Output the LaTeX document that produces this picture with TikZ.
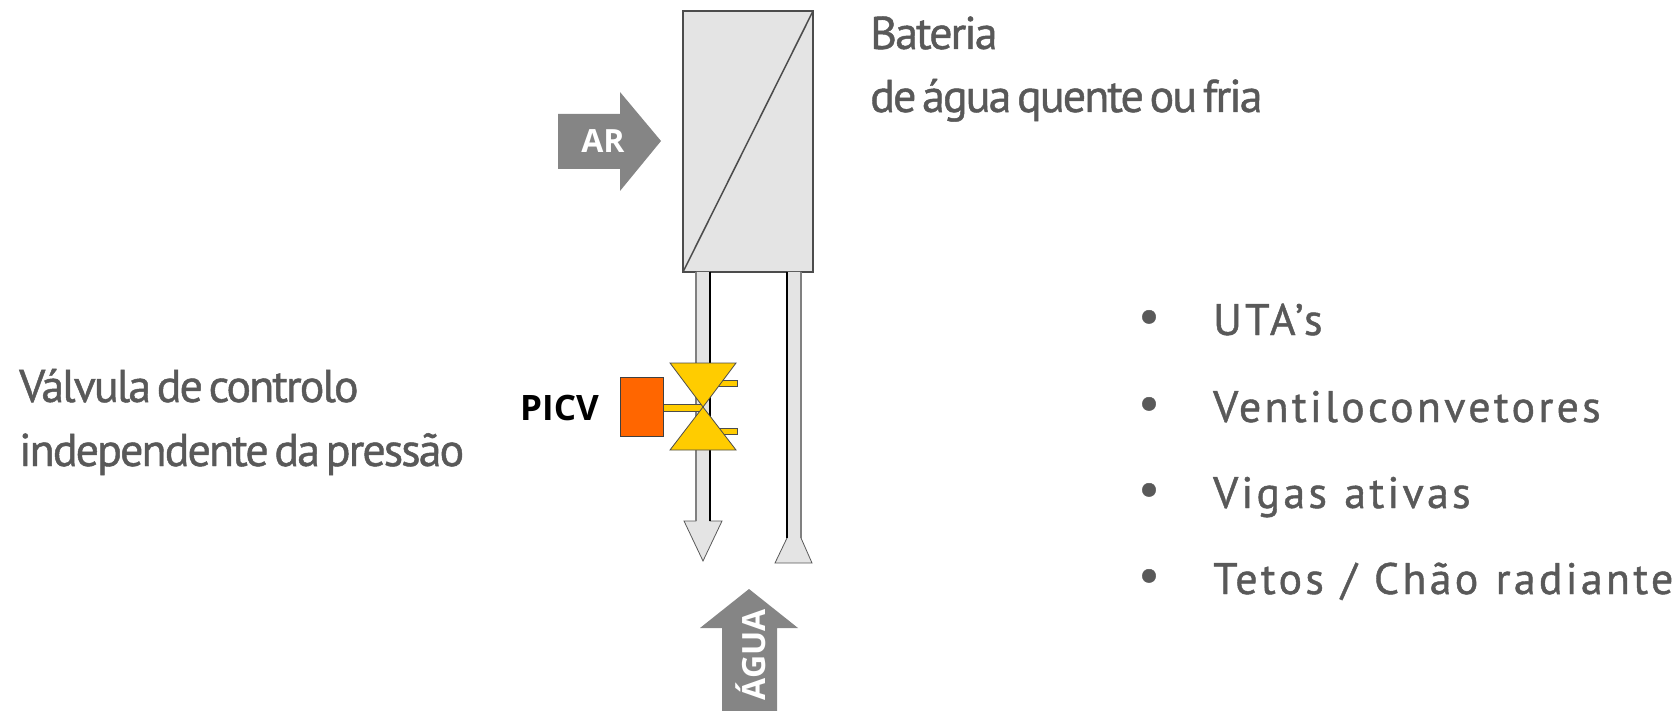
\documentclass[tikz,border=0pt]{standalone}
\usepackage{fontspec}
\setmainfont{Liberation Sans}
\newfontfamily\titlefont[LetterSpace=-4.2,WordSpace=0.55,FakeBold=1]{PT Sans}
\newfontfamily\listfont[LetterSpace=7.4,WordSpace=1.15,FakeBold=1]{PT Sans}
\newfontfamily\labelfont{Open Sans}
\definecolor{textgrey}{HTML}{595959}
\definecolor{arrowgrey}{HTML}{858585}
\definecolor{coilgrey}{HTML}{E4E4E4}
\definecolor{valveyellow}{HTML}{FFCC00}
\definecolor{actuatororange}{HTML}{FF6600}
\tikzset{
    titletext/.style={anchor=base west, inner sep=0pt, text=textgrey, font=\titlefont\fontsize{46}{50}\selectfont},
    listtext/.style={anchor=base west, inner sep=0pt, text=textgrey, font=\listfont\fontsize{44}{50}\selectfont},
    flowtext/.style={inner sep=0pt, text=white, font=\labelfont\bfseries\fontsize{32}{36}\selectfont},
    flowarrow/.style={fill=arrowgrey},
    pipe/.style={draw=black!65, fill=coilgrey, line width=0.8pt, line join=miter},
    pipeblack/.style={draw=black, line width=1.5pt},
    pipegrey/.style={draw=black!50, line width=1.5pt},
    valve/.style={draw=black!70, fill=valveyellow, line width=0.8pt, line join=miter}
}
\begin{document}
\begin{tikzpicture}[x=1pt, y=-1pt]
    \useasboundingbox (0, 0) rectangle (1675, 711);

    % coil
    \draw[draw=black!70, fill=coilgrey, line width=1.5pt] (683, 11) rectangle (813, 272);
    \draw[draw=black!70, line width=1.5pt] (683, 272) -- (813, 11);

    % air
    \fill[flowarrow] (558, 114) -- (620, 114) -- (620, 92) -- (661, 141)
        -- (620, 191) -- (620, 169) -- (558, 169) -- cycle;
    \node[flowtext] (ar) at (603, 141) {AR};

    % pipes
    \draw[pipe] (696, 272) -- (696, 521) -- (684, 521) -- (703, 561)
        -- (722, 521) -- (710, 521) -- (710, 272);
    \draw[pipegrey] (696, 272) -- (696, 521);
    \draw[pipeblack] (710, 272) -- (710, 521);
    \draw[pipe] (787, 272) -- (787, 538) -- (775, 563) -- (812, 563)
        -- (801, 538) -- (801, 272);
    \draw[pipeblack] (787, 272) -- (787, 538);
    \draw[pipegrey] (801, 272) -- (801, 538);

    % valve
    \filldraw[valve] (715, 380) rectangle (737, 386);
    \filldraw[valve] (715, 428) rectangle (737, 434);
    \filldraw[valve] (663, 404) rectangle (703, 411);
    \filldraw[valve] (670, 363) -- (736, 363) -- (703, 407) -- cycle;
    \filldraw[valve] (670, 450) -- (736, 450) -- (703, 407) -- cycle;
    \filldraw[draw=black!75, fill=actuatororange, line width=1pt] (620, 377) rectangle (663, 436);
    \node[anchor=base west, inner sep=0pt, font=\labelfont\bfseries\fontsize{35}{36}\selectfont] (picv) at (520, 420) {PICV};

    % water
    \fill[flowarrow] (722, 711) -- (722, 628) -- (700, 628) -- (749, 589)
        -- (798, 628) -- (777, 628) -- (777, 711) -- cycle;
    \node[flowtext, rotate=90] (agua) at (751, 655) {ÁGUA};

    \node[titletext] (bateria) at (870, 49) {Bateria};
    \node[titletext] (batdesc) at (870, 112) {de água quente ou fria};
    \node[titletext] (valvula) at (19, 402) {Válvula de controlo};
    \node[titletext] (valdesc) at (19, 466) {independente da pressão};

    \foreach \y/\name/\txt in {335/uta/{UTA’s}, 422/vent/{Ventiloconvetores}, 508/vigas/{Vigas ativas}, 594/tetos/{Tetos / Chão radiante}} {
        \node[listtext] (\name) at (1213, \y) {\txt};
        \node[listtext, anchor=center, font=\listfont\fontsize{48}{48}\selectfont] (\name dot) at (1149, \y-14) {•};
    }
\end{tikzpicture}
\end{document}
